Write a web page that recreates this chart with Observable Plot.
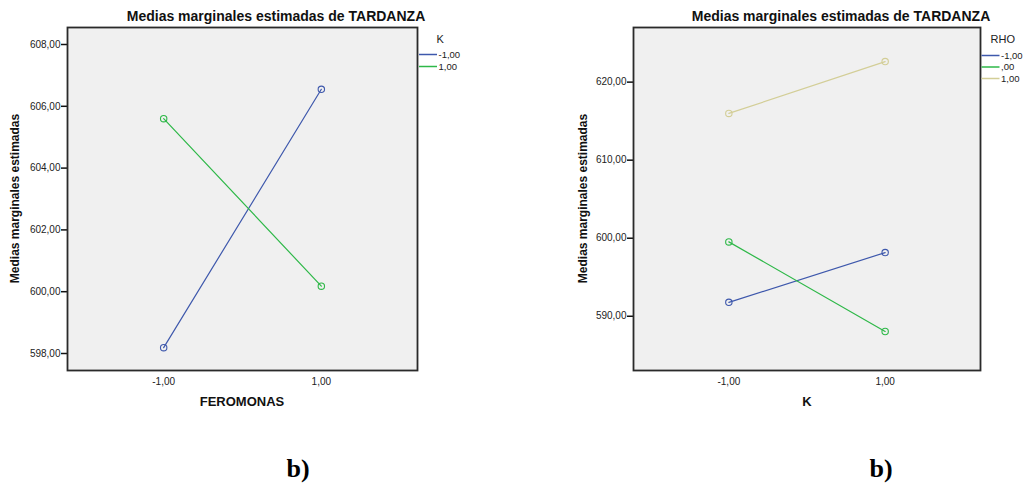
<!DOCTYPE html>
<html><head><meta charset="utf-8">
<script src="https://cdn.jsdelivr.net/npm/d3@7"></script>
<script src="https://cdn.jsdelivr.net/npm/@observablehq/plot@0.6"></script>
<style>
body{margin:0;background:#fff;}
#wrap{position:relative;width:1025px;height:483px;overflow:hidden;font-family:"Liberation Sans",Arial,sans-serif;}
.panel{position:absolute;top:0;}
#overlay{position:absolute;left:0;top:0;}
</style></head><body><div id="wrap"></div>
<script>
// ---- data ----
const titleText = "Medias marginales estimadas de TARDANZA";
const yLabelText = "Medias marginales estimadas";
// panel 1: x = FEROMONAS, series = K
const feromonasX = [-1, 1];
const kLevels = ["-1,00", "1,00"];
const kNeg = [598.19, 606.55];
const kPos = [605.60, 600.18];
const yTicksLeft = [598, 600, 602, 604, 606, 608];
// panel 2: x = K, series = RHO
const kX = [-1, 1];
const rhoLevels = ["-1,00", ",00", "1,00"];
const rhoNeg = [591.78, 598.16];
const rhoZero = [599.53, 588.05];
const rhoPos = [615.99, 622.63];
const yTicksRight = [590, 600, 610, 620];
const xTicks = [-1, 1];
const palette = ["#3e58ac", "#2eb848", "#d3ce97"];

const rows1 = [];
[kNeg, kPos].forEach((vals, i) => vals.forEach((v, j) => rows1.push({x: feromonasX[j], y: v, s: kLevels[i]})));
const rows2 = [];
[rhoNeg, rhoZero, rhoPos].forEach((vals, i) => vals.forEach((v, j) => rows2.push({x: kX[j], y: v, s: rhoLevels[i]})));

const fmt = d => d.toFixed(2).replace(".", ",");
const wrap = document.getElementById("wrap");

function panel(rows, levels, yDomain, yTicks, opts) {
  const p = Plot.plot({
    width: opts.width, height: 420,
    marginTop: 27, marginBottom: 50, marginLeft: opts.ml, marginRight: opts.mr,
    style: {fontFamily: '"Liberation Sans", Arial, sans-serif', color: "#222", background: "transparent", overflow: "visible"},
    x: {domain: [-2.22, 2.22]},
    y: {domain: yDomain},
    color: {domain: levels, range: palette.slice(0, levels.length)},
    marks: [
      Plot.frame({fill: "#f0f0f0", stroke: "none"}),
      Plot.axisY({ticks: yTicks, tickFormat: fmt, tickSize: 6, tickPadding: 1, fontSize: 10, label: null, strokeWidth: 1.5, stroke: "#111"}),
      Plot.axisX({ticks: xTicks, tickFormat: fmt, tickSize: 0, tickPadding: 7, fontSize: 10, label: null}),
      Plot.line(rows, {x: "x", y: "y", z: "s", stroke: "s", strokeWidth: 1.2}),
      Plot.dot(rows, {x: "x", y: "y", stroke: "s", r: 3.2, fill: "none", strokeWidth: 1.1}),
      Plot.frame({stroke: "#2a2a2a", strokeWidth: 1.8})
    ]
  });
  p.classList.add("panel");
  p.style.left = opts.left + "px";
  wrap.appendChild(p);
}

panel(rows1, kLevels, [597.45, 608.55], yTicksLeft, {width: 520, ml: 67, mr: 103, left: 0});
panel(rows2, rhoLevels, [583.05, 627.0], yTicksRight, {width: 465, ml: 73, mr: 45, left: 560});

// ---- overlay texts & legends ----
const ov = d3.select(wrap).append("svg").attr("id", "overlay").attr("width", 1025).attr("height", 483)
  .style("font-family", '"Liberation Sans", Arial, sans-serif');

function texts(cfg) {
  ov.append("text").attr("x", cfg.tx).attr("y", 21).attr("text-anchor", "middle")
    .attr("font-size", 14).attr("font-weight", "bold").attr("fill", "#111").text(titleText);
  ov.append("text").attr("transform", `translate(${cfg.yx},198.5) rotate(-90)`).attr("dy", "0.35em")
    .attr("text-anchor", "middle").attr("font-size", 12).attr("font-weight", "bold").attr("fill", "#111").text(yLabelText);
  ov.append("text").attr("x", cfg.xx).attr("y", 406).attr("text-anchor", "middle")
    .attr("font-size", 13).attr("font-weight", "bold").attr("fill", "#111").text(cfg.xLabel);
  ov.append("text").attr("x", cfg.bx).attr("y", 477).attr("text-anchor", "middle")
    .attr("font-family", '"Liberation Serif", "Times New Roman", serif')
    .attr("font-size", 26).attr("font-weight", "bold").attr("fill", "#000").text("b)");
  // legend
  ov.append("text").attr("x", cfg.lx + cfg.titleDx).attr("y", 42.5).attr("font-size", 11).attr("fill", "#222").text(cfg.legendTitle);
  cfg.levels.forEach((lv, i) => {
    const y = cfg.ly0 + i * cfg.lstep;
    ov.append("line").attr("x1", cfg.lx).attr("x2", cfg.lx + 18).attr("y1", y).attr("y2", y)
      .attr("stroke", palette[i]).attr("stroke-width", 1.5);
    ov.append("text").attr("x", cfg.lx + 19.5).attr("y", y).attr("dy", "0.35em").attr("font-size", 9.5).attr("fill", "#222").text(lv);
  });
}

texts({tx: 276, yx: 15, xx: 242, bx: 298, xLabel: "FEROMONAS", legendTitle: "K", levels: kLevels,
       lx: 419, titleDx: 17.5, ly0: 54.5, lstep: 12});
texts({tx: 841, yx: 583, xx: 807, bx: 881, xLabel: "K", legendTitle: "RHO", levels: rhoLevels,
       lx: 981.5, titleDx: 9, ly0: 55.5, lstep: 11.5});
</script>
</body></html>
